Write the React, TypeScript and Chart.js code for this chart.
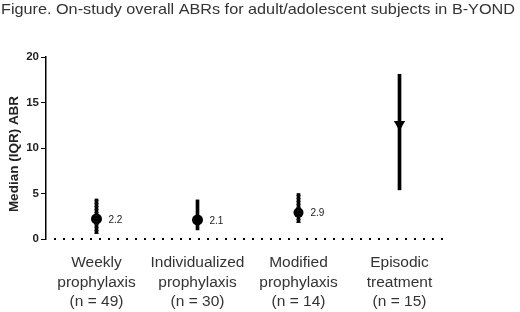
import React, { useEffect, useRef } from "react";
import { Chart, registerables } from "chart.js";

Chart.register(...registerables);

const titleText = "Figure. On-study overall ABRs for adult/adolescent subjects in B-YOND";
const yTitle = "Median (IQR) ABR";
const categories: string[][] = [
  ["Weekly", "prophylaxis", "(n = 49)"],
  ["Individualized", "prophylaxis", "(n = 30)"],
  ["Modified", "prophylaxis", "(n = 14)"],
  ["Episodic", "treatment", "(n = 15)"],
];
const medians = [2.2, 2.1, 2.9, 12.6];
const iqrLow = [0.6, 1.0, 1.8, 5.4];
const iqrHigh = [4.4, 4.3, 5.0, 18.1];
const medianLabels = ["2.2", "2.1", "2.9", ""];
const jaggedBars = [true, false, true, false];
const yTicks = [0, 5, 10, 15, 20];

const FONT = "'Liberation Sans', Arial, sans-serif";

const extrasPlugin = {
  id: "extras",
  beforeDatasetsDraw(chart: any) {
    const ctx = chart.ctx;
    const x = chart.scales.x;
    const y = chart.scales.y;
    ctx.save();
    ctx.strokeStyle = "#000";
    ctx.lineWidth = 2;
    ctx.setLineDash([2, 7]);
    const y0 = y.getPixelForValue(0);
    ctx.beginPath();
    ctx.moveTo(x.left + 8, y0);
    ctx.lineTo(x.right, y0);
    ctx.stroke();
    ctx.restore();
  },
  afterDatasetsDraw(chart: any) {
    const ctx = chart.ctx;
    const y = chart.scales.y;
    const barMeta = chart.getDatasetMeta(0);
    ctx.save();
    ctx.strokeStyle = "#111";
    ctx.lineWidth = 1;
    barMeta.data.forEach((bar: any, i: number) => {
      if (!jaggedBars[i]) return;
      const top = y.getPixelForValue(iqrHigh[i]);
      const bot = y.getPixelForValue(iqrLow[i]);
      for (let py = top + 1; py < bot; py += 3) {
        ctx.beginPath();
        ctx.moveTo(bar.x - 2, Math.round(py) + 0.5);
        ctx.lineTo(bar.x + 2, Math.round(py) + 0.5);
        ctx.stroke();
      }
    });
    ctx.restore();
  },
  afterDraw(chart: any) {
    const ctx = chart.ctx;
    ctx.save();
    ctx.fillStyle = "#333";
    ctx.font = `15px ${FONT}`;
    ctx.textAlign = "left";
    ctx.textBaseline = "alphabetic";
    const w = ctx.measureText(titleText).width;
    const sx = 514 / w;
    ctx.save();
    ctx.translate(1, 14);
    ctx.scale(sx, 1);
    ctx.fillText(titleText, 0, 0);
    ctx.restore();
    ctx.save();
    ctx.translate(14, 154);
    ctx.rotate(-Math.PI / 2);
    ctx.font = `bold 13.5px ${FONT}`;
    ctx.textAlign = "center";
    ctx.textBaseline = "middle";
    ctx.fillStyle = "#222";
    ctx.fillText(yTitle, 0, 0);
    ctx.restore();
    const meta = chart.getDatasetMeta(1);
    ctx.font = `10px ${FONT}`;
    ctx.fillStyle = "#222";
    ctx.textAlign = "left";
    ctx.textBaseline = "middle";
    meta.data.forEach((pt: any, i: number) => {
      if (medianLabels[i]) ctx.fillText(medianLabels[i], pt.x + 12, pt.y + 1);
    });
    ctx.restore();
  },
};

export default function App() {
  const ref = useRef<HTMLCanvasElement>(null);
  useEffect(() => {
    if (!ref.current) return;
    const chart = new Chart(ref.current, {
      type: "bar",
      data: {
        labels: categories,
        datasets: [
          {
            type: "bar",
            data: iqrLow.map((lo, i) => [lo, iqrHigh[i]]) as any,
            backgroundColor: "#000",
            borderWidth: 0,
            barThickness: 3,
            order: 2,
          } as any,
          {
            type: "line",
            data: medians,
            showLine: false,
            pointStyle: ["circle", "circle", "circle", "triangle"] as any,
            pointRotation: [0, 0, 0, 180],
            pointRadius: [5.5, 5.5, 5, 6.5],
            pointBackgroundColor: "#000",
            pointBorderColor: "#000",
            pointBorderWidth: 0,
            order: 1,
          } as any,
        ],
      },
      options: {
        responsive: false,
        animation: false,
        layout: { padding: { top: 57, right: 70, bottom: 0, left: 0 } },
        plugins: {
          legend: { display: false },
          tooltip: { enabled: false },
          title: { display: false },
        },
        scales: {
          x: {
            offset: true,
            grid: { display: false, drawTicks: false },
            border: { display: false },
            ticks: {
              padding: 14,
              color: "#333",
              font: { family: FONT, size: 15.5, lineHeight: 1.27 },
              maxRotation: 0,
              autoSkip: false,
            },
            afterFit: (s: any) => {
              s.height = 73;
            },
          },
          y: {
            min: 0,
            max: 20,
            afterBuildTicks: (s: any) => {
              s.ticks = yTicks.map((v) => ({ value: v }));
            },
            grid: { display: true, drawOnChartArea: false, drawTicks: true, tickLength: 5, color: "#000", lineWidth: 1 },
            border: { display: true, color: "#000", width: 1.5 },
            ticks: {
              padding: 2,
              color: "#222",
              font: { family: FONT, size: 11.5, weight: "bold" },
            },
            afterFit: (s: any) => {
              s.width = 46;
            },
          },
        },
      },
      plugins: [extrasPlugin],
    });
    return () => chart.destroy();
  }, []);
  return (
    <div style={{ position: "absolute", left: 0, top: 0, width: 520, height: 312, background: "#fff" }}>
      <canvas ref={ref} width={520} height={312} />
    </div>
  );
}
